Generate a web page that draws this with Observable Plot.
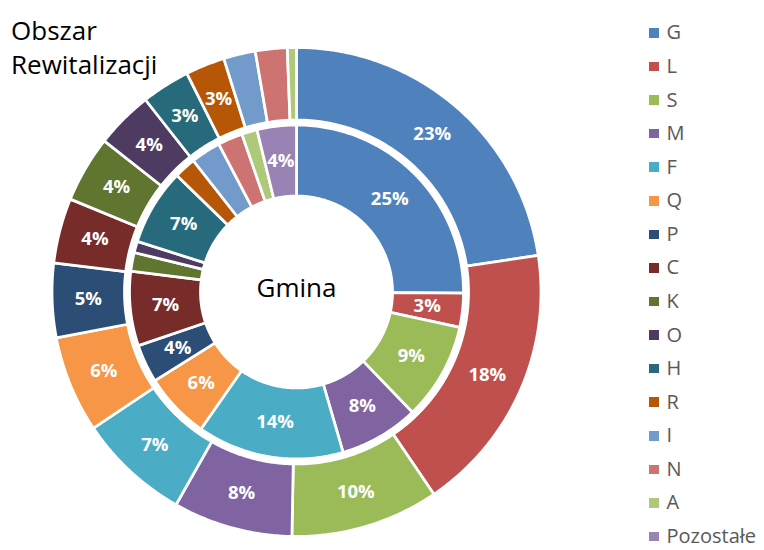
<!DOCTYPE html>
<html>
<head>
<meta charset="utf-8">
<script src="https://cdn.jsdelivr.net/npm/d3@7"></script>
<script src="https://cdn.jsdelivr.net/npm/@observablehq/plot@0.6"></script>
<style>
  body { margin: 0; background: #fff; }
  #wrap { position: relative; width: 764px; height: 550px; overflow: hidden; font-family: "Open Sans", sans-serif; }
  #chart { position: absolute; left: 0; top: 0; }
  #title { position: absolute; left: 11px; top: 12.5px; font-size: 26px; line-height: 34px; color: #000; white-space: nowrap; }
  .lg-row { position: absolute; left: 649px; width: 114px; height: 16px; font-size: 20px; line-height: 16px; color: #595959; white-space: nowrap; box-sizing: border-box; padding-left: 17.5px; }
  .lg-sw { position: absolute; left: 0; top: 3.8px; width: 9.5px; height: 9.5px; }
</style>
</head>
<body>
<div id="wrap">
  <div id="chart"></div>
  <div id="title">Obszar<br>Rewitalizacji</div>
  <div id="legend"></div>
</div>
<script>
// ---- data ----
const categories = ["G","L","S","M","F","Q","P","C","K","O","H","R","I","N","A","Pozostałe"];
const colors = ["#4F81BD","#C0504D","#9BBB59","#8064A2","#4BACC6","#F79646","#2C4D75","#772C2A","#5F7530","#4D3B62","#276A7C","#B65708","#729ACA","#CD7371","#AFC97A","#9983B5"];
// inner ring: Gmina (percent)
const gmina = [25.1,3.3,9.4,7.7,14.2,6.4,3.7,7.2,1.8,1.1,7.4,2.1,2.9,2.4,1.5,3.8];
const gminaLabels = ["25%","3%","9%","8%","14%","6%","4%","7%","","","7%","","","","","4%"];
// outer ring: Obszar Rewitalizacji (percent)
const obszar = [22.6,17.9,9.8,7.9,7.4,6.4,4.9,4.3,4.4,3.8,3.2,2.6,2.1,2.1,0.6,0];
const obszarLabels = ["23%","18%","10%","8%","7%","6%","5%","4%","4%","4%","3%","3%","","","",""];
const centerLabel = "Gmina";

// ---- geometry (layout) ----
const W = 764, H = 550, CX = 296, CY = 291.5;
const rings = [
  {name: "gmina", values: gmina, labels: gminaLabels, r0: 96, r1: 167},
  {name: "obszar", values: obszar, labels: obszarLabels, r0: 172, r1: 244.5}
];

const polys = [];
const labels = [];
for (const ring of rings) {
  const arcs = d3.pie().sort(null).value(d => d)(ring.values);
  arcs.forEach((a, i) => {
    if (ring.values[i] <= 0) return;
    const key = ring.name + "-" + i;
    const step = Math.PI / 360;
    const n = Math.max(2, Math.ceil((a.endAngle - a.startAngle) / step));
    for (let k = 0; k <= n; k++) {
      const t = a.startAngle + (a.endAngle - a.startAngle) * k / n;
      polys.push({key, cat: categories[i], x: ring.r1 * Math.sin(t), y: ring.r1 * Math.cos(t)});
    }
    for (let k = n; k >= 0; k--) {
      const t = a.startAngle + (a.endAngle - a.startAngle) * k / n;
      polys.push({key, cat: categories[i], x: ring.r0 * Math.sin(t), y: ring.r0 * Math.cos(t)});
    }
    if (ring.labels[i]) {
      const m = (a.startAngle + a.endAngle) / 2, rm = (ring.r0 + ring.r1) / 2;
      labels.push({text: ring.labels[i], x: rm * Math.sin(m), y: rm * Math.cos(m)});
    }
  });
}

const chart = Plot.plot({
  width: W, height: H,
  margin: 0,
  x: {type: "linear", domain: [-CX, W - CX], range: [0, W], axis: null},
  y: {type: "linear", domain: [-(H - CY), CY], range: [H, 0], axis: null},
  color: {domain: categories, range: colors},
  style: {background: "transparent", fontFamily: "Open Sans, sans-serif"},
  marks: [
    Plot.line(polys, {x: "x", y: "y", z: "key", fill: "cat", stroke: "white", strokeWidth: 2.75, curve: "linear-closed"}),
    Plot.text(labels, {x: "x", y: "y", text: "text", fill: "white", fontWeight: "bold", fontSize: 18.5, fontFamily: "Open Sans, sans-serif"}),
    Plot.text([centerLabel], {x: () => 0, y: () => 0, text: d => d, fill: "black", fontSize: 26, dy: -3, fontFamily: "Open Sans, sans-serif"})
  ]
});
document.getElementById("chart").appendChild(chart);

// ---- legend ----
const lg = document.getElementById("legend");
categories.forEach((c, i) => {
  const row = document.createElement("div");
  row.className = "lg-row";
  row.style.top = (24.4 + i * 33.57) + "px";
  const sw = document.createElement("div");
  sw.className = "lg-sw";
  sw.style.background = colors[i];
  row.appendChild(sw);
  row.appendChild(document.createTextNode(c));
  lg.appendChild(row);
});
</script>
</body>
</html>
